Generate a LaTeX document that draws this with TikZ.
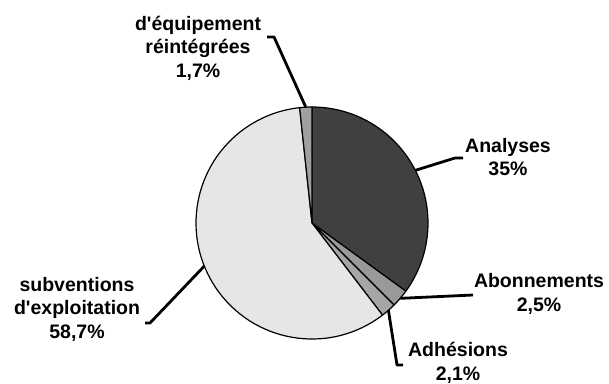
\documentclass[tikz,border=0pt]{standalone}
\usepackage{fontspec}
\setmainfont{Liberation Sans}
\definecolor{cAna}{HTML}{404040}
\definecolor{cAbo}{HTML}{999999}
\definecolor{cAdh}{HTML}{A6A6A6}
\definecolor{cSub}{HTML}{E6E6E6}
\definecolor{cEqu}{HTML}{A0A0A0}
\tikzset{
  slice/.style={draw=black, line width=1.2bp, line join=round},
  leader/.style={draw=black, line width=2.8bp, line join=round},
  lbl/.style={align=center, font=\fontsize{19.5bp}{23.5bp}\selectfont\bfseries, inner sep=0pt}
}
\begin{document}
\begin{tikzpicture}[x=1bp,y=1bp]
\useasboundingbox (0,0) rectangle (609,383);
\coordinate (C) at (312,160);
\def\R{116}
% slices
\filldraw[slice, fill=cAna] (C) -- ([shift={(C)}]90:\R) arc[start angle=90, end angle=-36, radius=\R] -- cycle;
\filldraw[slice, fill=cAbo] (C) -- ([shift={(C)}]-36:\R) arc[start angle=-36, end angle=-45, radius=\R] -- cycle;
\filldraw[slice, fill=cAdh] (C) -- ([shift={(C)}]-45:\R) arc[start angle=-45, end angle=-52.56, radius=\R] -- cycle;
\filldraw[slice, fill=cSub] (C) -- ([shift={(C)}]-52.56:\R) arc[start angle=-52.56, end angle=-263.88, radius=\R] -- cycle;
\filldraw[slice, fill=cEqu] (C) -- ([shift={(C)}]-263.88:\R) arc[start angle=-263.88, end angle=-270, radius=\R] -- cycle;
% anchor points on slices
\coordinate (pEqu) at ([shift={(C)}]93.06:\R);
\coordinate (pAna) at ([shift={(C)}]27:\R);
\coordinate (pAbo) at ([shift={(C)}]-40.5:\R);
\coordinate (pAdh) at ([shift={(C)}]-48.8:\R);
\coordinate (pSub) at ([shift={(C)}]-158.2:\R);
% bends and ends
\coordinate (bEqu) at (274,346); \coordinate (eEqu) at (267,346);
\coordinate (bAna) at (455,225); \coordinate (eAna) at (463,225);
\coordinate (eAbo) at (473,88);
\coordinate (bAdh) at (397,18); \coordinate (eAdh) at (403,18);
\coordinate (bSub) at (150,60); \coordinate (eSub) at (145,60);
% leaders
\draw[leader] (pEqu) -- (bEqu) -- (eEqu);
\draw[leader] (pAna) -- (bAna) -- (eAna);
\draw[leader] (pAbo) -- (eAbo);
\draw[leader] (pAdh) -- (bAdh) -- (eAdh);
\draw[leader] (pSub) -- (bSub) -- (eSub);
% labels
\node[lbl] (tEqu) at (198,335) {d\textquotesingle équipement\\réintégrées\\1,7\%};
\node[lbl] (tAna) at (508,226) {Analyses\\35\%};
\node[lbl] (tAbo) at (539,89) {Abonnements\\2,5\%};
\node[lbl] (tAdh) at (458,20) {Adhésions\\2,1\%};
\node[lbl] (tSub) at (77,74) {subventions\\d\textquotesingle exploitation\\58,7\%};
\end{tikzpicture}
\end{document}
